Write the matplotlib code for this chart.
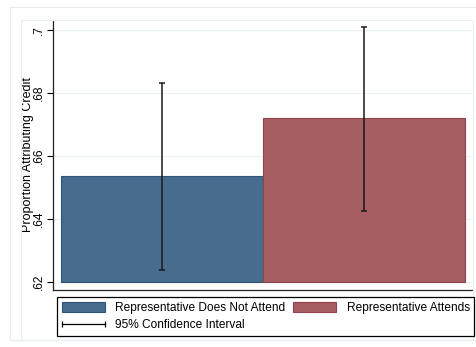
import numpy as np
import matplotlib
matplotlib.use("Agg")
import matplotlib.pyplot as plt
from matplotlib.patches import Patch, Rectangle
from matplotlib.lines import Line2D
from matplotlib.legend_handler import HandlerLine2D

plt.rcParams['font.family'] = ['Liberation Sans', 'DejaVu Sans']
plt.rcParams['font.size'] = 8.6

# group means and 95% CIs
groups = ['Representative Does Not Attend', 'Representative Attends']
means = [0.6537, 0.6721]
ci_low = [0.6240, 0.6425]
ci_high = [0.6832, 0.7010]
yticks = [0.62, 0.64, 0.66, 0.68, 0.70]
yticklabels = ['.62', '.64', '.66', '.68', '.7']

colors = ['#486C8D', '#A65E62']
edges = ['#2E5577', '#8E444A']

fig = plt.figure(figsize=(4.76, 3.47), dpi=100)

# stata-style faint frames
W, H = 476.0, 347.0
fig.patches.append(Rectangle((10 / W, 1 - 340 / H), 470 / W, 333 / H,
                             transform=fig.transFigure, fill=False,
                             ec='#E6ECF0', lw=0.8))
fig.patches.append(Rectangle((21 / W, 1 - 340 / H), 452 / W, 320 / H,
                             transform=fig.transFigure, fill=False,
                             ec='#E9EEF2', lw=0.8))

ax = fig.add_axes([53 / W, 1 - 290 / H, 420 / W, 270 / H])

x = np.arange(len(means))
base = 0.62
ax.bar(x, np.array(means) - base, bottom=base, width=1.0,
       color=colors, edgecolor=edges, linewidth=0.8, zorder=2)

err = [np.array(means) - np.array(ci_low), np.array(ci_high) - np.array(means)]
ax.errorbar(x, means, yerr=err, fmt='none', ecolor='#1a1a1a',
            elinewidth=1.1, capsize=2.5, capthick=1.1, zorder=3)

ax.set_xlim(-0.538, 1.54)
ax.set_ylim(0.6175, 0.7032)
ax.set_yticks(yticks)
ax.set_yticklabels(yticklabels, rotation=90, va='center')
ax.set_xticks([])
ax.grid(axis='y', color='#EBF0F3', lw=0.8, zorder=0)
ax.set_axisbelow(True)
ax.tick_params(axis='y', length=4, width=0.8, pad=2, labelsize=8.6)
ax.set_ylabel('Proportion Attributing Credit', fontsize=9, labelpad=-1)

for s in ['top', 'right']:
    ax.spines[s].set_visible(False)
for s in ['left', 'bottom']:
    ax.spines[s].set_linewidth(0.9)
    ax.spines[s].set_color('#222222')

handles = [Patch(facecolor=colors[0], edgecolor=edges[0], lw=0.8),
           Line2D([], [], color='black', lw=0.9, marker='|', ms=5, mew=0.9),
           Patch(facecolor=colors[1], edgecolor=edges[1], lw=0.8)]
labels = [groups[0], '95% Confidence Interval', groups[1]]

leg = fig.legend(handles, labels, ncol=2, loc='upper left',
                 bbox_to_anchor=(57 / W, 1 - 297 / H),
                 frameon=True, fancybox=False,
                 edgecolor='black', framealpha=1, fontsize=8.6,
                 handlelength=3.6, handleheight=1.0, handletextpad=0.85,
                 columnspacing=0.7, borderaxespad=0, borderpad=0.4,
                 labelspacing=0.4,
                 handler_map={handles[1]: HandlerLine2D(numpoints=2, marker_pad=0)})
leg.get_frame().set_linewidth(0.9)

fig.savefig('out.png', dpi=100)
